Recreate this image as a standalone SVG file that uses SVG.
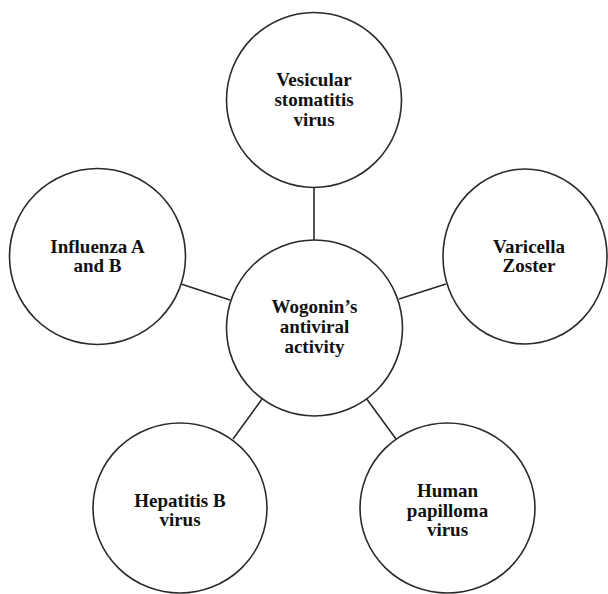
<svg xmlns="http://www.w3.org/2000/svg" width="608" height="594" viewBox="0 0 608 594">
<style>
.node{fill:#fff;stroke:#2a2a2a;stroke-width:1.6}
.lbl{font-family:"Liberation Serif","Times New Roman",serif;font-weight:bold;font-size:19px;fill:#111;text-anchor:middle}
.conn line{stroke:#2a2a2a;stroke-width:1.6}
</style>
<rect width="608" height="594" fill="#fff"/>
<g id="connectors" class="conn">
<line x1="314" y1="187" x2="314" y2="240"/>
<line x1="181" y1="284" x2="230" y2="300"/>
<line x1="446" y1="284" x2="399" y2="299"/>
<line x1="233" y1="439" x2="262" y2="399"/>
<line x1="396" y1="439" x2="366" y2="398"/>
</g>
<g id="center">
<circle class="node" cx="314.5" cy="328" r="88"/>
<text class="lbl" x="314.5" y="313">Wogonin’s</text>
<text class="lbl" x="314.5" y="333">antiviral</text>
<text class="lbl" x="314.5" y="353">activity</text>
</g>
<g id="vesicular">
<circle class="node" cx="314" cy="100" r="87.5"/>
<text class="lbl" x="314" y="86">Vesicular</text>
<text class="lbl" x="314" y="106">stomatitis</text>
<text class="lbl" x="314" y="126">virus</text>
</g>
<g id="influenza">
<circle class="node" cx="97.5" cy="256.5" r="88"/>
<text class="lbl" x="97.5" y="253">Influenza A</text>
<text class="lbl" x="97.5" y="272">and B</text>
</g>
<g id="varicella">
<ellipse class="node" cx="525" cy="256.5" rx="82" ry="87.5"/>
<text class="lbl" x="529" y="253">Varicella</text>
<text class="lbl" x="529" y="272">Zoster</text>
</g>
<g id="hepatitis">
<ellipse class="node" cx="180" cy="508" rx="87" ry="85"/>
<text class="lbl" x="180" y="507">Hepatitis B</text>
<text class="lbl" x="180" y="526">virus</text>
</g>
<g id="hpv">
<ellipse class="node" cx="447.5" cy="508" rx="87.5" ry="85"/>
<text class="lbl" x="447.5" y="497">Human</text>
<text class="lbl" x="447.5" y="517">papilloma</text>
<text class="lbl" x="447.5" y="536">virus</text>
</g>
</svg>
